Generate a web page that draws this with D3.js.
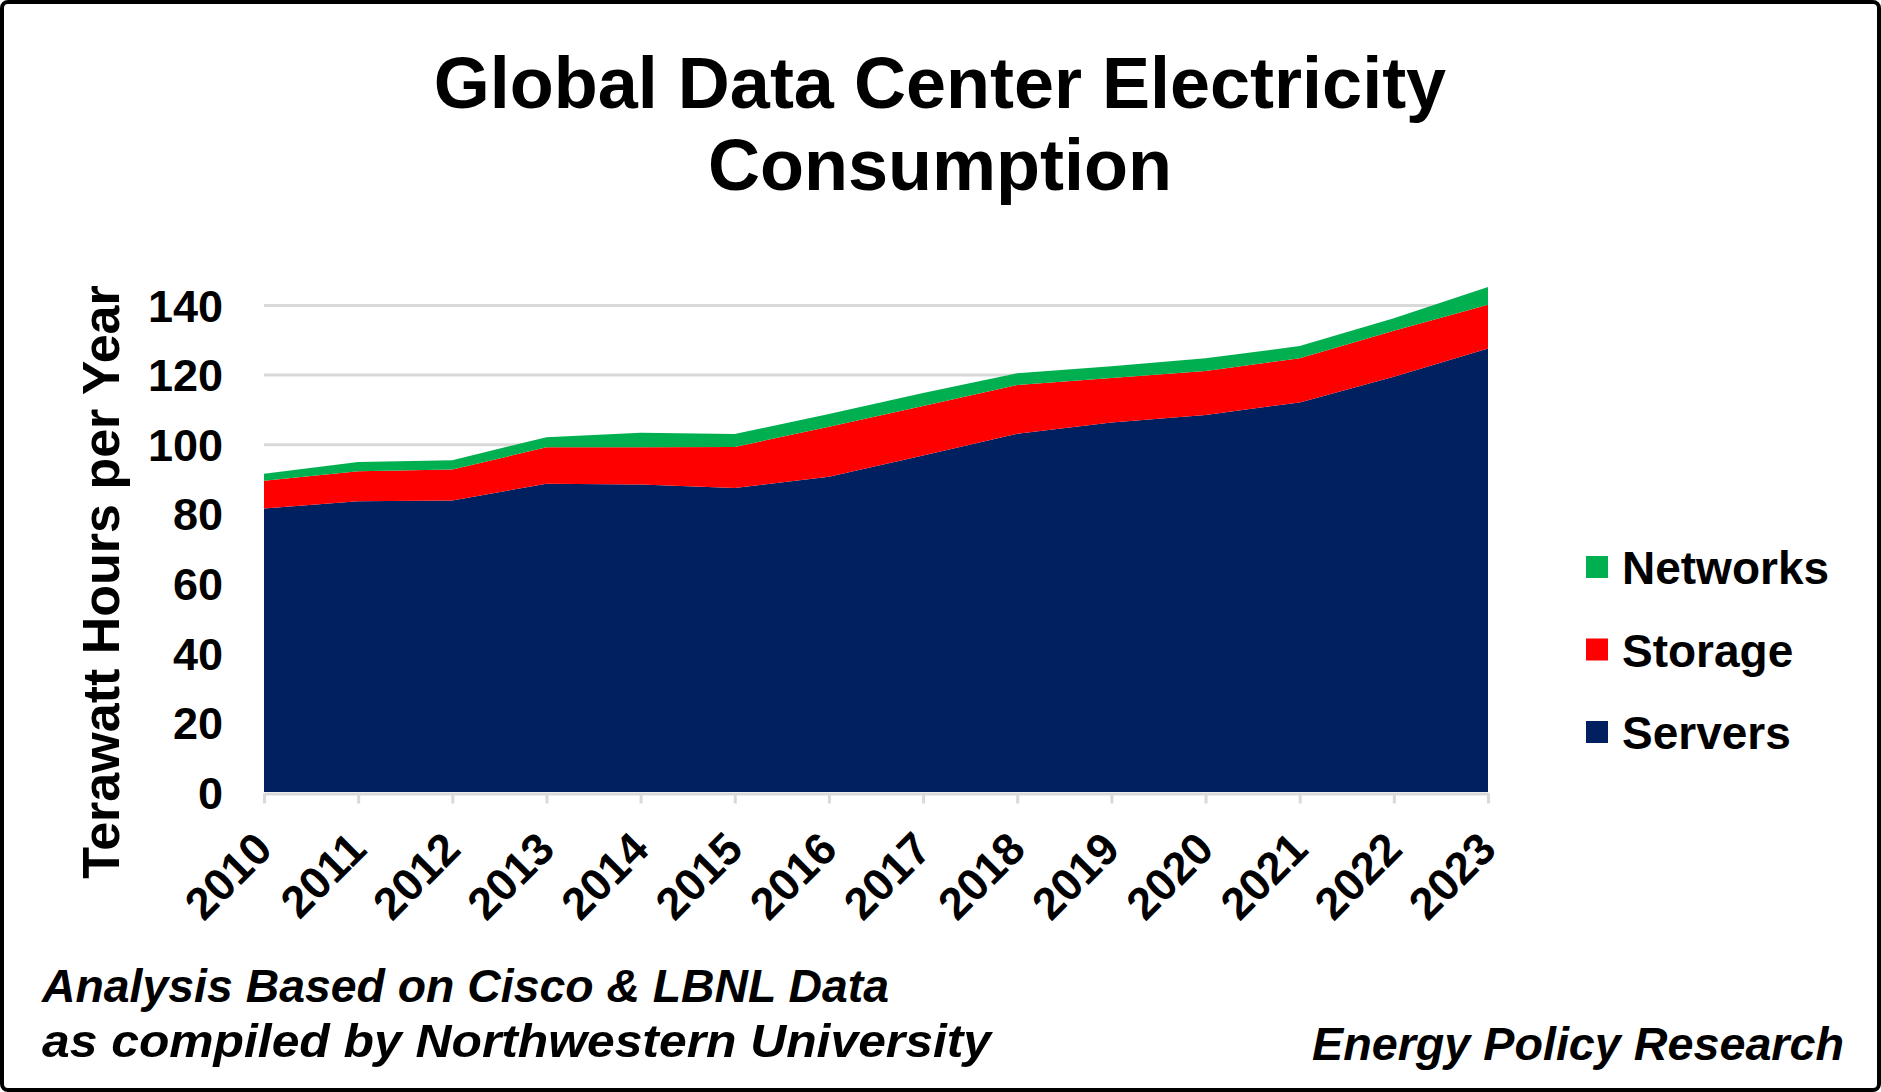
<!DOCTYPE html>
<html>
<head>
<meta charset="utf-8">
<script src="https://cdn.jsdelivr.net/npm/d3@7"></script>
<style>
  html, body { margin: 0; padding: 0; background: #fff; }
  svg { display: block; }
  text { font-family: "Liberation Sans", Arial, sans-serif; fill: #000; }
</style>
</head>
<body>
<svg id="chart" width="1881" height="1092"></svg>
<script>
// ---- data ----
const years = ["2010","2011","2012","2013","2014","2015","2016","2017","2018","2019","2020","2021","2022","2023"];
const servers  = [81.5, 83.6, 83.8, 88.6, 88.4, 87.4, 90.6, 96.7, 103.0, 106.2, 108.4, 112.0, 119.4, 127.5];
const storage  = [8.0, 8.6, 8.9, 10.5, 10.7, 11.8, 14.4, 14.3, 14.0, 12.8, 12.6, 12.7, 13.2, 12.6];
const networks = [2.0, 2.7, 2.7, 2.9, 4.2, 3.7, 3.7, 3.7, 3.4, 3.4, 3.7, 3.5, 3.6, 5.1];
const seriesKeys = ["Servers", "Storage", "Networks"];
const seriesColors = ["#002060", "#FF0000", "#00B050"];
const yTicks = [0, 20, 40, 60, 80, 100, 120, 140];
const titleLines = ["Global Data Center Electricity", "Consumption"];
const yLabel = "Terawatt Hours per Year";
const footLeft = ["Analysis Based on Cisco & LBNL Data", "as compiled by Northwestern University"];
const footRight = "Energy Policy Research";

(function () {
// ---- table ----
const table = years.map((yr, i) => ({ year: yr, Servers: servers[i], Storage: storage[i], Networks: networks[i] }));
const stacked = d3.stack().keys(seriesKeys)(table);

const svg = d3.select("#chart");
const W = 1881, H = 1092;
const pLeft = 264, pRight = 1488, pTop = 305, pBottom = 792;

svg.append("rect").attr("x", 0).attr("y", 0).attr("width", W).attr("height", H).attr("fill", "#fff");

const x = d3.scalePoint().domain(years).range([pLeft, pRight]).padding(0);
const y = d3.scaleLinear().domain([0, 140]).range([pBottom, pTop]);
const color = d3.scaleOrdinal().domain(seriesKeys).range(seriesColors);

// gridlines
const grid = svg.append("g").attr("transform", `translate(${pLeft},0)`)
  .call(d3.axisLeft(y).tickValues(yTicks.filter(v => v > 0)).tickSize(-(pRight - pLeft)).tickFormat(""));
grid.select(".domain").remove();
grid.selectAll("line").attr("stroke", "#D9D9D9").attr("stroke-width", 3);

// areas
const area = d3.area().x(d => x(d.data.year)).y0(d => y(d[0])).y1(d => y(d[1]));
svg.append("g").selectAll("path").data(stacked).join("path")
  .attr("d", area).attr("fill", d => color(d.key));

// x axis
const xAxis = svg.append("g").attr("transform", `translate(0,${pBottom + 1.5})`)
  .call(d3.axisBottom(x).tickSize(10).tickSizeOuter(0));
xAxis.select(".domain").attr("stroke", "#D9D9D9").attr("stroke-width", 3);
xAxis.selectAll(".tick line").attr("stroke", "#D9D9D9").attr("stroke-width", 3);
xAxis.selectAll(".tick text")
  .attr("x", 0).attr("y", 0).attr("dy", null)
  .attr("text-anchor", "end")
  .attr("transform", "translate(10,58) rotate(-45)")
  .style("font-family", "'Liberation Sans', Arial, sans-serif")
  .style("font-weight", "bold").style("font-size", "45px").attr("fill", "#000");

// y axis labels
const yAxis = svg.append("g").attr("transform", `translate(${pLeft},0)`)
  .call(d3.axisLeft(y).tickValues(yTicks).tickSize(0).tickPadding(41));
yAxis.select(".domain").remove();
yAxis.selectAll(".tick text")
  .attr("dy", "0.36em")
  .style("font-family", "'Liberation Sans', Arial, sans-serif")
  .style("font-weight", "bold").style("font-size", "45px").attr("fill", "#000");

// y axis title
svg.append("text")
  .attr("transform", "translate(119,582) rotate(-90)")
  .attr("text-anchor", "middle")
  .style("font-weight", "bold").style("font-size", "52px")
  .text(yLabel);

// title
svg.append("g").selectAll("text").data(titleLines).join("text")
  .attr("x", 940).attr("y", (d, i) => 108 + i * 82)
  .attr("text-anchor", "middle")
  .style("font-weight", "bold").style("font-size", "72px")
  .text(d => d);

// legend (top to bottom: Networks, Storage, Servers)
const legendItems = seriesKeys.slice().reverse();
const lg = svg.append("g").selectAll("g").data(legendItems).join("g")
  .attr("transform", (d, i) => `translate(1586,${584 + i * 82.5})`);
lg.append("rect").attr("x", 0).attr("y", -28).attr("width", 22).attr("height", 22)
  .attr("fill", d => color(d));
lg.append("text").attr("x", 36).attr("y", 0)
  .style("font-weight", "bold").style("font-size", "46px")
  .text(d => d);

// footers
const footLens = [847, 949];
svg.append("g").selectAll("text").data(footLeft).join("text")
  .attr("x", 42).attr("y", (d, i) => 1002 + i * 55)
  .attr("textLength", (d, i) => footLens[i]).attr("lengthAdjust", "spacingAndGlyphs")
  .style("font-weight", "bold").style("font-style", "italic").style("font-size", "47px")
  .text(d => d);
svg.append("text")
  .attr("x", 1312).attr("y", 1060)
  .attr("textLength", 532).attr("lengthAdjust", "spacingAndGlyphs")
  .style("font-weight", "bold").style("font-style", "italic").style("font-size", "47px")
  .text(footRight);

// border
svg.append("rect").attr("x", 2).attr("y", 2).attr("width", W - 4).attr("height", H - 4)
  .attr("rx", 6).attr("fill", "none").attr("stroke", "#000").attr("stroke-width", 4);
})();
</script>
</body>
</html>
